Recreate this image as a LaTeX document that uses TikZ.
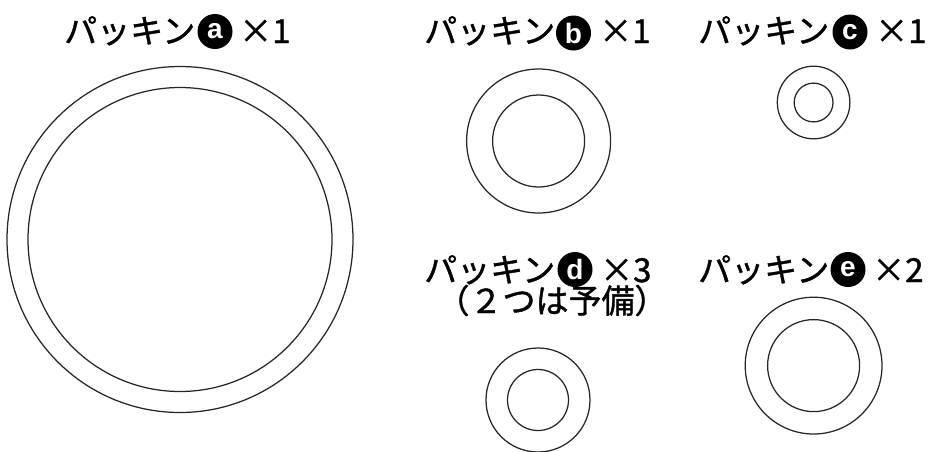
\documentclass[tikz,border=0pt]{standalone}
\usepackage{fontspec}
\newfontfamily\jp{Noto Sans CJK JP}[RawFeature={embolden=1.2}]
\newfontfamily\lat{Liberation Sans}
\begin{document}
\begin{tikzpicture}[x=1pt,y=-1pt,
  ring/.style={draw=black!85,line width=1.25pt},
  lbl/.style={font=\jp\fontsize{33}{36}\selectfont, inner sep=0pt, anchor=base west},
  badge/.style={circle,fill=black,text=white,inner sep=0pt,minimum size=35pt,font=\lat\bfseries\fontsize{28}{28}\selectfont},
  cnt/.style={font=\jp\fontsize{33}{36}\selectfont, inner sep=0pt, anchor=base west}]
\useasboundingbox (0,0) rectangle (931,451);
% labels
\node[lbl] (la) at (64,43) {パッキン};
\node[badge] (ba) at (215,31.5) {a};
\node[cnt] (na) at (239,43) {×1};
\node[lbl] (lb) at (424,43) {パッキン};
\node[badge] (bb) at (573.5,33) {b};
\node[cnt] (nb) at (599,43) {×1};
\node[lbl] (lc) at (698,43) {パッキン};
\node[badge] (bc) at (850,32) {c};
\node[cnt] (nc) at (875,43) {×1};
\node[lbl, text depth=0pt] (ld) at (424,282) {パッキン};
\node[badge] (bd) at (575,269.5) {d};
\node[cnt, text depth=0pt] (nd) at (600,282) {×3};
\node[font=\jp\fontsize{33}{36}\selectfont, inner sep=0pt, anchor=base, text height=22pt] (ld2) at (552,313) {（２つは予備）};
\node[lbl] (le) at (698,282) {パッキン};
\node[badge] (be) at (848,269.5) {e};
\node[cnt] (ne) at (872,282) {×2};
% rings
\draw[ring] (180,239.5) circle[radius=173];
\draw[ring] (180,239.5) circle[radius=152];
\draw[ring] (538.6,141) circle[radius=72];
\draw[ring] (538.6,141) circle[radius=46];
\draw[ring] (813.6,102.5) circle[radius=36.3];
\draw[ring] (813.6,102.5) circle[radius=19.4];
\draw[ring] (538,400) circle[radius=52];
\draw[ring] (538,400) circle[radius=30.5];
\draw[ring] (813.6,365.6) circle[radius=68.4];
\draw[ring] (813.6,365.6) circle[radius=46];
\end{tikzpicture}
\end{document}
